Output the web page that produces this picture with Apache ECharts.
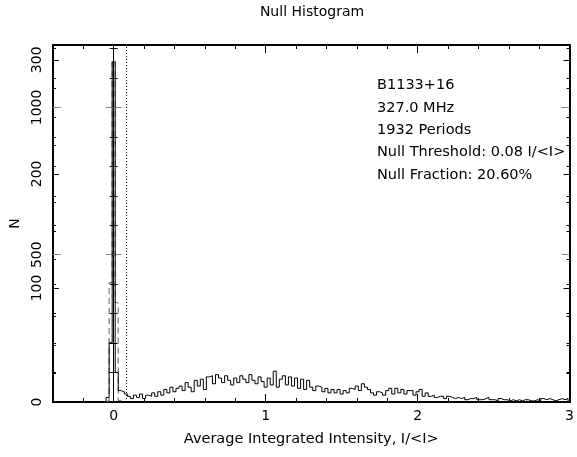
<!DOCTYPE html>
<html>
<head>
<meta charset="utf-8">
<title>Null Histogram</title>
<script src="https://cdn.jsdelivr.net/npm/echarts@6/dist/echarts.min.js"></script>
<style>
  html, body { margin: 0; padding: 0; background: #fff; }
  #chart { width: 577px; height: 457px; }
</style>
</head>
<body>
<div id="chart"></div>
<script>
// Histogram bins (width in I/<I>), left edge of the first bin
const binWidth = 0.02;
const binStart = -0.05;

// On-pulse energy histogram (left scale, N)
const onPulseCounts = [
  4, 52, 298, 26, 10,
  9, 7, 5, 3, 6,
  4, 7, 3, 6, 5,
  8, 5, 9, 6, 11,
  8, 13, 9, 12, 14,
  10, 17, 13, 9, 19,
  14, 20, 11, 22, 23,
  16, 24, 21, 17, 23,
  19, 15, 21, 17, 23,
  20, 17, 24, 19, 16,
  22, 18, 13, 21, 15,
  27, 13, 20, 23, 15,
  22, 14, 21, 12, 20,
  11, 19, 13, 10, 14,
  13, 9, 12, 8, 11,
  8, 11, 7, 10, 8,
  12, 11, 14, 10, 16,
  13, 11, 8, 6, 9,
  8, 6, 10, 12, 7,
  12, 8, 11, 7, 10,
  10, 6, 9, 11, 5,
  8, 5, 6, 4, 5,
  5, 3, 5, 4, 3,
  4, 3, 4, 2, 3,
  3, 4, 2, 2, 3,
  4, 2, 2, 1, 3,
  2, 2, 1, 2, 1,
  2, 1, 2, 2, 1,
  1, 2, 1, 3, 2,
  3, 2, 1, 2, 3,
  2, 3
];

// Off-pulse histogram (right-hand count scale)
const offPulseCounts = [5, 405, 1160, 337, 5];

// Null threshold marker
const nullThreshold = 0.08;

// Annotation lines
const infoLines = [
  'B1133+16',
  '327.0 MHz',
  '1932 Periods',
  'Null Threshold: 0.08 I/<I>',
  'Null Fraction: 20.60%'
];

// Axis ranges and ticks
const xRange = [-0.4, 3];
const xLabelTicks = [0, 1, 2, 3];
const xMinorStep = 0.2;
const nRange = [0, 313];
const nLabelTicks = [0, 100, 200, 300];
const nMinorStep = 25;
const offRange = [0, 1212];
const offLabelTicks = [500, 1000];
const offMinorStep = 100;

function stepsOf(min, max, step) {
  const out = [];
  const n = Math.floor((max - min) / step + 1e-9);
  for (let i = 0; i <= n; i++) out.push(+(min + i * step).toFixed(6));
  return out;
}

function outline(start, counts) {
  const pts = [[start, 0]];
  counts.forEach((c, i) => pts.push([+(start + i * binWidth).toFixed(6), c]));
  const end = +(start + counts.length * binWidth).toFixed(6);
  pts.push([end, counts[counts.length - 1]]);
  pts.push([end, 0]);
  return pts;
}

const FONT = 'DejaVu Sans';
const INK = '#000';
const GREY = '#888';

const xMinor = stepsOf(Math.ceil(xRange[0] / xMinorStep) * xMinorStep, xRange[1], xMinorStep);
const nMinor = stepsOf(0, 300, nMinorStep);
const offMinor = stepsOf(0, 1200, offMinorStep);

function xAx(pos, ticks, len, withLine, withLabels) {
  return {
    type: 'value', position: pos, min: xRange[0], max: xRange[1],
    splitLine: { show: false },
    axisLine: { show: withLine, onZero: false, lineStyle: { color: INK, width: 2 } },
    axisTick: { show: true, inside: true, length: len, customValues: ticks, lineStyle: { color: INK, width: 1 } },
    axisLabel: withLabels ? {
      show: true, customValues: xLabelTicks, color: INK, fontFamily: FONT, fontSize: 14, margin: 7,
      formatter: v => String(Math.round(v))
    } : { show: false },
    name: withLabels ? 'Average Integrated Intensity, I/<I>' : '',
    nameLocation: 'middle', nameGap: 30,
    nameTextStyle: { color: INK, fontFamily: FONT, fontSize: 14.5 }
  };
}

function yAx(pos, range, ticks, len, color, opts) {
  opts = opts || {};
  const ax = {
    type: 'value', position: pos === 'zero' ? 'left' : pos, min: range[0], max: range[1],
    splitLine: { show: false },
    axisLine: pos === 'zero'
      ? { show: !!opts.line, onZero: true, onZeroAxisIndex: 0, lineStyle: { color: INK, width: 1 } }
      : { show: !!opts.line, onZero: false, lineStyle: { color: INK, width: 2 } },
    axisTick: { show: true, inside: opts.outside ? false : true, length: len, customValues: ticks, lineStyle: { color: color, width: 1 } },
    axisLabel: { show: false }
  };
  if (opts.labels) {
    ax.axisLabel = {
      show: true, customValues: opts.labels, rotate: 90, color: INK,
      fontFamily: FONT, fontSize: 14, margin: 9,
      formatter: v => String(Math.round(v))
    };
  }
  if (opts.name) {
    ax.name = opts.name;
    ax.nameLocation = 'middle';
    ax.nameGap = 29;
    ax.nameRotate = 90;
    ax.nameTextStyle = { color: INK, fontFamily: FONT, fontSize: 14 };
  }
  return ax;
}

const xAxes = [
  xAx('bottom', xMinor, 4, true, true),
  xAx('bottom', xLabelTicks, 8, false, false),
  xAx('top', xMinor, 4, true, false),
  xAx('top', xLabelTicks, 8, false, false)
];

const yAxes = [
  yAx('left', nRange, nMinor, 3, INK, { line: true, labels: nLabelTicks, name: 'N' }), // 0
  yAx('left', nRange, nLabelTicks, 6, INK),                                           // 1
  yAx('left', offRange, offMinor, 3, INK, { labels: offLabelTicks }),                  // 2
  yAx('left', offRange, offLabelTicks, 8, GREY),                                       // 3
  yAx('right', nRange, nMinor, 3, INK, { line: true }),                                // 4
  yAx('right', nRange, nLabelTicks, 6, INK),                                           // 5
  yAx('right', offRange, offMinor, 3, INK),                                            // 6
  yAx('right', offRange, offLabelTicks, 8, GREY),                                      // 7
  yAx('zero', offRange, offMinor, 4, INK, { line: true }),                             // 8
  yAx('zero', offRange, offMinor, 4, INK, { outside: true }),                          // 9
  yAx('zero', offRange, offLabelTicks, 8, GREY),                                       // 10
  yAx('zero', offRange, offLabelTicks, 8, GREY, { outside: true })                     // 11
];

const chart = echarts.init(document.getElementById('chart'), null, { renderer: 'canvas' });
chart.setOption({
  animation: false,
  backgroundColor: '#fff',
  grid: { left: 52, right: 5, top: 45, bottom: 55, containLabel: false },
  xAxis: xAxes,
  yAxis: yAxes,
  series: [
    {
      type: 'line', xAxisIndex: 0, yAxisIndex: 2, step: 'end', symbol: 'none',
      data: outline(binStart, offPulseCounts),
      lineStyle: { color: '#777', width: 1.2, type: [6, 4] }, z: 2
    },
    {
      type: 'line', xAxisIndex: 0, yAxisIndex: 0, step: 'end', symbol: 'none',
      data: outline(binStart, onPulseCounts),
      lineStyle: { color: INK, width: 1 }, z: 3,
      markLine: {
        silent: true, symbol: ['none', 'none'], label: { show: false },
        lineStyle: { color: INK, width: 1, type: [1, 2] },
        data: [{ xAxis: nullThreshold }]
      }
    }
  ],
  graphic: [
    {
      type: 'text', x: 312, y: 5,
      style: { text: 'Null Histogram', fill: INK, font: '14px "' + FONT + '"', textAlign: 'center' }
    }
  ].concat(infoLines.map((t, i) => ({
    type: 'text', left: 377, top: 78 + i * 22.4,
    style: { text: t, fill: INK, font: '14.5px "' + FONT + '"' }
  })))
});
</script>
</body>
</html>
